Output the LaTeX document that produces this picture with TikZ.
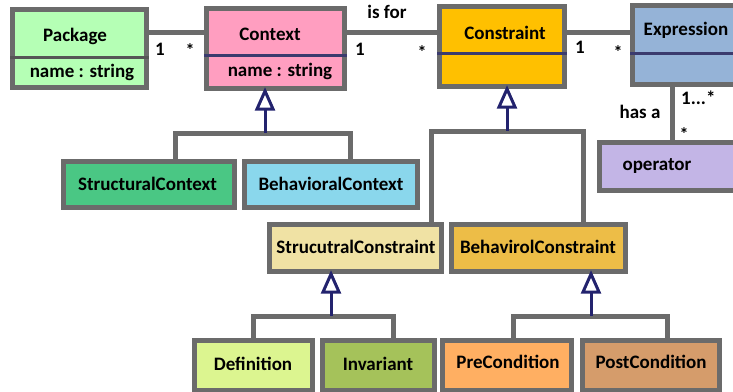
\documentclass[tikz,border=0pt]{standalone}
\usepackage{fontspec}
\setmainfont{Carlito}
\usetikzlibrary{calc}
\definecolor{bord}{HTML}{6B6B6B}
\definecolor{navy}{HTML}{23236E}
\definecolor{divnavy}{HTML}{3B3B6E}
\definecolor{cPkg}{HTML}{B5FFB5}
\definecolor{cCtx}{HTML}{FF9EC0}
\definecolor{cCon}{HTML}{FFC000}
\definecolor{cExp}{HTML}{95B3D7}
\definecolor{cOp}{HTML}{C3B5E6}
\definecolor{cSC}{HTML}{4AC784}
\definecolor{cBC}{HTML}{8AD7EC}
\definecolor{cSCo}{HTML}{F0E2A4}
\definecolor{cBCo}{HTML}{EDBD47}
\definecolor{cDef}{HTML}{DCF590}
\definecolor{cInv}{HTML}{A5C25A}
\definecolor{cPre}{HTML}{FFAF62}
\definecolor{cPost}{HTML}{D59C6B}
\tikzset{
  cls/.style={draw=bord, line width=5pt, rectangle, inner sep=0pt},
  txt/.style={font=\fontsize{19}{21}\selectfont\bfseries, inner sep=0pt, anchor=base, text=black},
  mult/.style={font=\fontsize{18}{20}\selectfont\bfseries, inner sep=0pt, text=black},
  assoc/.style={draw=bord, line width=5pt},
  divline/.style={line width=3pt},
  genline/.style={draw=navy, line width=3pt},
  bracket/.style={draw=bord, line width=5pt},
}
\begin{document}
\begin{tikzpicture}[x=1pt,y=-1pt]
\useasboundingbox (0,0) rectangle (733,391);
% classes
\node[cls, fill=cPkg, minimum width=134pt, minimum height=78pt] (Pkg) at (79.5,48.5) {};
\node[cls, fill=cCtx, minimum width=138pt, minimum height=80pt] (Ctx) at (275.5,48.5) {};
\node[cls, fill=cCon, minimum width=125pt, minimum height=80pt] (Con) at (502,46.5) {};
\node[cls, fill=cExp, minimum width=115pt, minimum height=79pt] (Exp) at (690,45) {};
\node[cls, fill=cOp, minimum width=148pt, minimum height=48pt] (Op) at (673.5,166.5) {};
\node[cls, fill=cSC, minimum width=171pt, minimum height=46pt] (SC) at (149,184.5) {};
\node[cls, fill=cBC, minimum width=173pt, minimum height=46pt] (BC) at (331,184.5) {};
\node[cls, fill=cSCo, minimum width=172pt, minimum height=47pt] (SCo) at (355.5,248) {};
\node[cls, fill=cBCo, minimum width=174pt, minimum height=47pt] (BCo) at (538.5,248) {};
\node[cls, fill=cDef, minimum width=118pt, minimum height=50pt] (Def) at (253.5,365.5) {};
\node[cls, fill=cInv, minimum width=112pt, minimum height=50pt] (Inv) at (378.5,365.5) {};
\node[cls, fill=cPre, minimum width=129pt, minimum height=50pt] (Pre) at (507,365.5) {};
\node[cls, fill=cPost, minimum width=137pt, minimum height=50pt] (Post) at (651,365.5) {};
% dividers
\draw[divline, draw=bord!80!black] (Pkg.west |- 0,57) -- (Pkg.east |- 0,57);
\draw[divline, draw=divnavy] (Ctx.west |- 0,55) -- (Ctx.east |- 0,55);
\draw[divline, draw=divnavy] (Con.west |- 0,53) -- (Con.east |- 0,53);
\draw[divline, draw=divnavy] (Exp.west |- 0,53) -- (Exp.east |- 0,53);
% texts
\node[txt] (tPkg) at (75,41) {Package};
\node[txt] (aPkg) at (82,77) {name : string};
\node[txt] (tCtx) at (270,40.5) {Context};
\node[txt] (aCtx) at (280,76) {name : string};
\node[txt] (tCon) at (505,39) {Constraint};
\node[txt] (tExp) at (686,35) {Expression};
\node[txt] (tOp) at (657,170) {operator};
\node[txt] (tSC) at (147.5,190) {StructuralContext};
\node[txt] (tBC) at (331,190) {BehavioralContext};
\node[txt] (tSCo) at (356,253) {StrucutralConstraint};
\node[txt] (tBCo) at (538,253) {BehavirolConstraint};
\node[txt] (tDef) at (253,370) {Definition};
\node[txt] (tInv) at (378,370) {Invariant};
\node[txt] (tPre) at (508,368) {PreCondition};
\node[txt] (tPost) at (651,368) {PostCondition};
% associations
\coordinate (aY) at (0,32);
\draw[assoc] (Pkg.east |- aY) -- (Ctx.west |- aY);
\draw[assoc] (Ctx.east |- aY) -- (Con.west |- aY);
\draw[assoc] (Con.east |- aY) -- (Exp.west |- aY);
\draw[assoc] (Exp.south -| 672,0) -- (Op.north -| 672,0);
% association labels
\node[txt] (l1) at (160,55) {1};
\node[mult] (s1) at (190,50) {*};
\node[txt] (isfor) at (387,18) {is for};
\node[txt] (l2) at (360,55) {1};
\node[mult] (s2) at (422,52) {*};
\node[txt] (l3) at (580,53) {1};
\node[mult] (s3) at (618,52) {*};
\node[txt] (hasa) at (640,118) {has a};
\node[txt, anchor=base west] (l4) at (681,104) {1...*};
\node[mult] (s4) at (684,134) {*};
% generalizations
\coordinate (g1) at ($(Ctx.south)+(-10.5,0)$);
\coordinate (g2) at ($(Con.south)+(5,0)$);
\coordinate (g3) at ($(SCo.south)+(-24.5,0)$);
\coordinate (g4) at ($(BCo.south)+(52.5,0)$);
\coordinate (b1) at (0,133);
\coordinate (b2) at (0,131);
\coordinate (b3) at (0,316);
\draw[bracket] (SC.north -| 175,0) |- (b1 -| 265,0) -| (BC.north -| 350,0);
\draw[bracket] (SCo.north -| 431,0) |- (b2 -| 507,0) -| (BCo.north -| 583,0);
\draw[bracket] (Def.north -| 253,0) |- (b3 -| 331,0) -| (Inv.north -| 393,0);
\draw[bracket] (Pre.north -| 513,0) |- (b3 -| 591,0) -| (Post.north -| 667,0);
\foreach \g/\b in {g1/b1, g2/b2, g3/b3, g4/b3}{
  \draw[genline] ($(\g)+(0,19)$) -- (\g |- \b);
  \draw[genline, fill=white, line join=miter] (\g) -- ++(-8,18) -- ++(16,0) -- cycle;
}
\end{tikzpicture}
\end{document}
